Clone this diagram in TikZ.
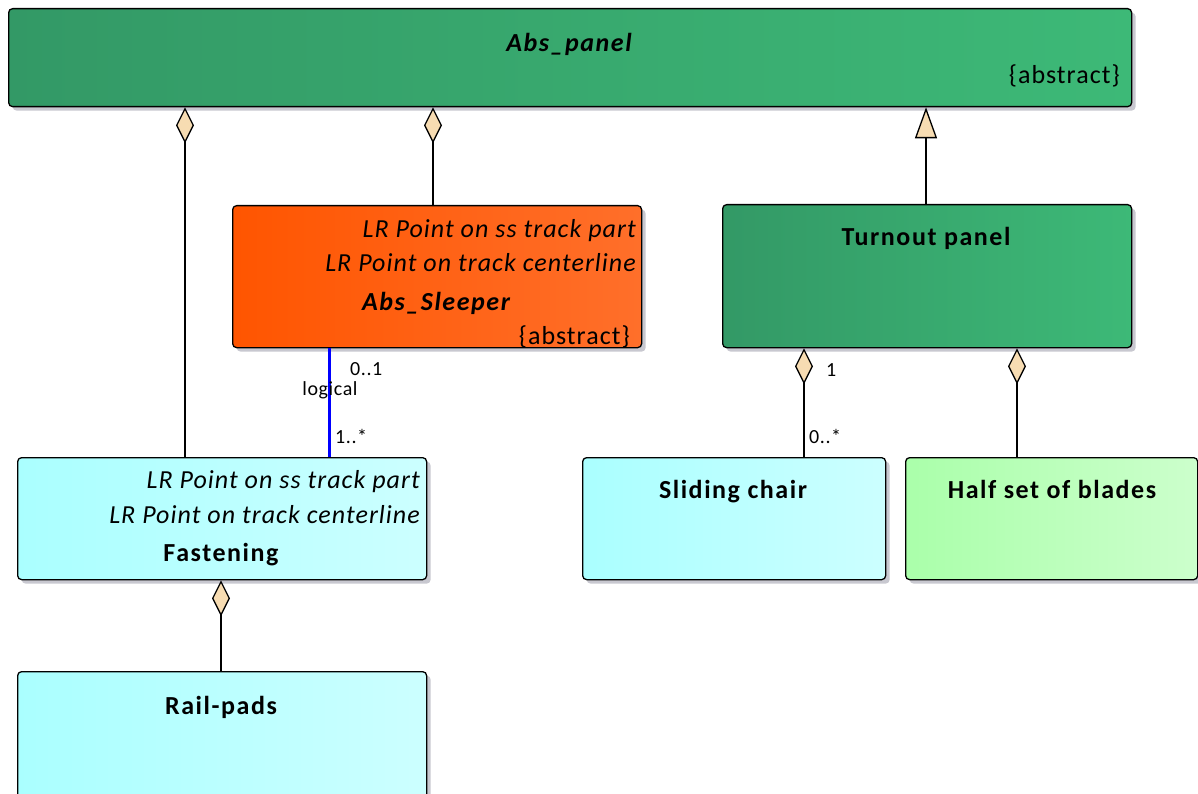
\documentclass[tikz,border=0pt]{standalone}
\usepackage{fontspec}
\setmainfont{Carlito}
\newfontfamily\lsreg[LetterSpace=4]{Carlito}
\newfontfamily\lsbold[LetterSpace=6]{Carlito}
\newfontfamily\lssmall[LetterSpace=3]{Carlito}
\usetikzlibrary{arrows.meta,shadows}
\definecolor{panelL}{HTML}{339966}
\definecolor{panelR}{HTML}{3DB977}
\definecolor{orangeL}{HTML}{FF5500}
\definecolor{orangeR}{HTML}{FF6F2A}
\definecolor{cyanL}{HTML}{AAFFFF}
\definecolor{cyanR}{HTML}{CCFFFF}
\definecolor{lgreenL}{HTML}{AAFFAA}
\definecolor{lgreenR}{HTML}{CCFFCC}
\definecolor{tipfill}{HTML}{F7DCB2}
\definecolor{shadowcol}{HTML}{C8C8D0}
\definecolor{logblue}{HTML}{0000FF}
\tikzset{
  umlbox/.style={draw=black, line width=1.3pt, rounded corners=4pt, anchor=north west,
    inner sep=0pt, drop shadow={shadow xshift=4pt, shadow yshift=-4pt, fill=shadowcol, opacity=1}},
  greenbox/.style={umlbox, left color=panelL, right color=panelR},
  orangebox/.style={umlbox, left color=orangeL, right color=orangeR},
  cyanbox/.style={umlbox, left color=cyanL, right color=cyanR},
  lgreenbox/.style={umlbox, left color=lgreenL, right color=lgreenR},
  txt/.style={font=\lsreg\fontsize{26}{31}\selectfont, inner sep=0pt},
  attr/.style={txt, font=\lsreg\fontsize{26}{31}\selectfont\itshape, anchor=base east},
  ttl/.style={txt, font=\lsbold\fontsize{26}{31}\selectfont\bfseries, anchor=base},
  attl/.style={txt, font=\lsbold\fontsize{26}{31}\selectfont\bfseries\itshape, anchor=base},
  small/.style={font=\lssmall\fontsize{20}{23}\selectfont, inner sep=0pt, anchor=base west},
  aggr/.style={line width=1.3pt, {Diamond[length=36pt, width=18pt, fill=tipfill, line width=1.3pt]}-},
  gener/.style={line width=1.3pt, {Triangle[length=31pt, width=22pt, fill=tipfill, line width=1.3pt]}-},
}
\begin{document}
\begin{tikzpicture}[x=1pt, y=-1pt]
\useasboundingbox (0,0) rectangle (1198,794);
\clip (0,0) rectangle (1198,794);
% boxes
\node[greenbox, minimum width=1123pt, minimum height=98pt] (panel) at (8,8) {};
\node[orangebox, minimum width=409pt, minimum height=142pt] (sleeper) at (232,205) {};
\node[greenbox, minimum width=409pt, minimum height=143pt] (turnout) at (722,204) {};
\node[cyanbox, minimum width=409pt, minimum height=122pt] (fast) at (17,457) {};
\node[cyanbox, minimum width=303pt, minimum height=122pt] (chair) at (582,457) {};
\node[lgreenbox, minimum width=292pt, minimum height=122pt] (blades) at (905,457) {};
\node[cyanbox, minimum width=409pt, minimum height=160pt] (pads) at (17,671) {};
% texts
\node[attl] (panelT) at (569,52) {Abs\_panel};
\node[txt, anchor=base east] (panelA) at (1120,84) {\{abstract\}};
\node[attr] (sl1) at (636,237) {LR Point on ss track part};
\node[attr] (sl2) at (636,271) {LR Point on track centerline};
\node[attl] (slT) at (436,310) {Abs\_Sleeper};
\node[txt, anchor=base east] (slA) at (630,344) {\{abstract\}};
\node[ttl] (tuT) at (926,246) {Turnout panel};
\node[attr] (fa1) at (420,488) {LR Point on ss track part};
\node[attr] (fa2) at (420,523) {LR Point on track centerline};
\node[ttl] (faT) at (221,561) {Fastening};
\node[ttl] (chT) at (733,498) {Sliding chair};
\node[ttl] (blT) at (1052,498) {Half set of blades};
\node[ttl] (paT) at (221,714) {Rail-pads};
% connectors
\draw[aggr] (185,0 |- panel.south) -- (185,0 |- fast.north);
\draw[aggr] (433,0 |- panel.south) -- (433,0 |- sleeper.north);
\draw[gener] (926,0 |- panel.south) -- (926,0 |- turnout.north);
\draw[aggr] (804,0 |- turnout.south) -- (804,0 |- chair.north);
\draw[aggr] (1017,0 |- turnout.south) -- (1017,0 |- blades.north);
\draw[aggr] (221,0 |- fast.south) -- (221,0 |- pads.north);
\draw[logblue, line width=3pt] (329,0 |- sleeper.south) -- (329,0 |- fast.north);
% labels
\node[small] (m01) at (350,375) {0..1};
\node[small, anchor=base] (mlog) at (330,395) {logical};
\node[small] (m1s) at (335,443) {1..*};
\node[small] (m1) at (826,376) {1};
\node[small] (m0s) at (809,443) {0..*};
\end{tikzpicture}
\end{document}
